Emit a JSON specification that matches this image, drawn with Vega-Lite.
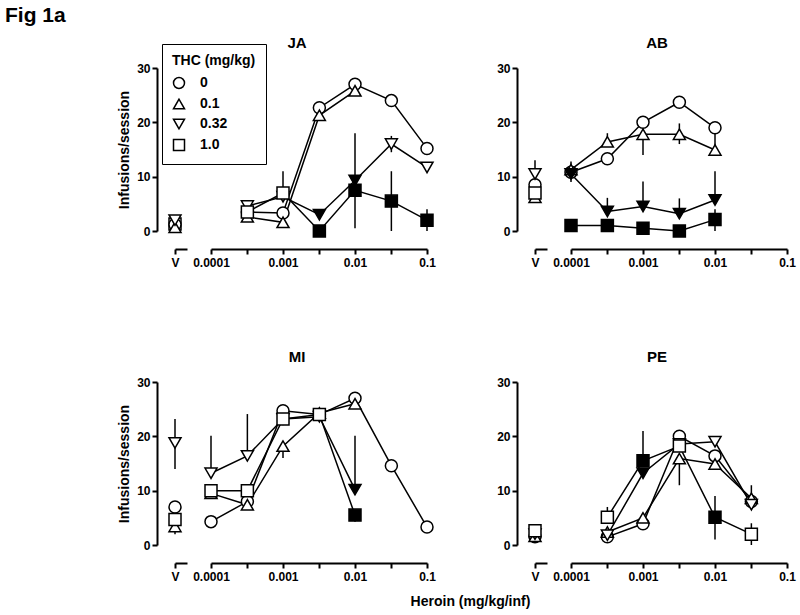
{
  "$schema": "https://vega.github.io/schema/vega-lite/v6.json",
  "padding": {"left": 5, "top": 5, "right": 5, "bottom": 5},
  "title": {"text": "Fig 1a", "anchor": "start", "frame": "group", "fontSize": 21, "dx": -170, "offset": 10},
  "datasets": {
    "veh": [
      {"s": "JA", "grp": "V", "thc": "1.0", "y": 1.3, "sig": "no"},
      {"s": "JA", "grp": "V", "thc": "0", "y": 1.2, "sig": "no"},
      {"s": "JA", "grp": "V", "thc": "0.1", "y": 0.7, "sig": "no"},
      {"s": "JA", "grp": "V", "thc": "0.32", "y": 2.0, "sig": "no"},
      {"s": "AB", "grp": "V", "thc": "0", "y": 8.5, "sig": "no"},
      {"s": "AB", "grp": "V", "thc": "0.1", "y": 6.2, "sig": "no"},
      {"s": "AB", "grp": "V", "thc": "0.32", "y": 10.5, "sig": "no", "lo": 8.2, "hi": 13},
      {"s": "AB", "grp": "V", "thc": "1.0", "y": 7.0, "sig": "no"},
      {"s": "MI", "grp": "V", "thc": "0", "y": 7.0, "sig": "no"},
      {"s": "MI", "grp": "V", "thc": "0.1", "y": 3.4, "sig": "no", "lo": 2, "hi": 3.4},
      {"s": "MI", "grp": "V", "thc": "0.32", "y": 18.8, "sig": "no", "lo": 14, "hi": 23.2},
      {"s": "MI", "grp": "V", "thc": "1.0", "y": 4.7, "sig": "no"},
      {"s": "PE", "grp": "V", "thc": "0", "y": 1.5, "sig": "no"},
      {"s": "PE", "grp": "V", "thc": "0.1", "y": 1.6, "sig": "no"},
      {"s": "PE", "grp": "V", "thc": "0.32", "y": 2.0, "sig": "no"},
      {"s": "PE", "grp": "V", "thc": "1.0", "y": 2.6, "sig": "no"}
    ],
    "dose": [
      {"s": "JA", "d": 0.00032, "thc": "0", "y": 3.5, "sig": "no"},
      {"s": "JA", "d": 0.001, "thc": "0", "y": 3.3, "sig": "no"},
      {"s": "JA", "d": 0.0032, "thc": "0", "y": 22.7, "sig": "no"},
      {"s": "JA", "d": 0.01, "thc": "0", "y": 27, "sig": "no"},
      {"s": "JA", "d": 0.032, "thc": "0", "y": 24, "sig": "no"},
      {"s": "JA", "d": 0.1, "thc": "0", "y": 15.2, "sig": "no"},
      {"s": "JA", "d": 0.00032, "thc": "0.1", "y": 2.6, "sig": "no"},
      {"s": "JA", "d": 0.001, "thc": "0.1", "y": 1.6, "sig": "no"},
      {"s": "JA", "d": 0.0032, "thc": "0.1", "y": 21.3, "sig": "no"},
      {"s": "JA", "d": 0.01, "thc": "0.1", "y": 25.8, "sig": "no"},
      {"s": "JA", "d": 0.00032, "thc": "0.32", "y": 4.6, "sig": "no"},
      {"s": "JA", "d": 0.001, "thc": "0.32", "y": 6.3, "sig": "no"},
      {"s": "JA", "d": 0.0032, "thc": "0.32", "y": 3.0, "sig": "yes"},
      {"s": "JA", "d": 0.01, "thc": "0.32", "y": 9.3, "sig": "yes", "lo": 0.5, "hi": 18},
      {"s": "JA", "d": 0.032, "thc": "0.32", "y": 16, "sig": "no", "lo": 14.5, "hi": 17.5},
      {"s": "JA", "d": 0.1, "thc": "0.32", "y": 11.7, "sig": "no"},
      {"s": "JA", "d": 0.00032, "thc": "1.0", "y": 3.5, "sig": "no"},
      {"s": "JA", "d": 0.001, "thc": "1.0", "y": 7.0, "sig": "no", "lo": 7, "hi": 11},
      {"s": "JA", "d": 0.0032, "thc": "1.0", "y": 0, "sig": "yes"},
      {"s": "JA", "d": 0.01, "thc": "1.0", "y": 7.5, "sig": "yes"},
      {"s": "JA", "d": 0.032, "thc": "1.0", "y": 5.5, "sig": "yes", "lo": 0, "hi": 11},
      {"s": "JA", "d": 0.1, "thc": "1.0", "y": 2, "sig": "yes", "lo": 0, "hi": 4},
      {"s": "AB", "d": 0.0001, "thc": "0", "y": 10.8, "sig": "no"},
      {"s": "AB", "d": 0.00032, "thc": "0", "y": 13.3, "sig": "no"},
      {"s": "AB", "d": 0.001, "thc": "0", "y": 20, "sig": "no"},
      {"s": "AB", "d": 0.0032, "thc": "0", "y": 23.7, "sig": "no"},
      {"s": "AB", "d": 0.01, "thc": "0", "y": 19, "sig": "no"},
      {"s": "AB", "d": 0.0001, "thc": "0.1", "y": 11.3, "sig": "no", "lo": 9.8, "hi": 12.8},
      {"s": "AB", "d": 0.00032, "thc": "0.1", "y": 16.4, "sig": "no", "lo": 16.4, "hi": 18},
      {"s": "AB", "d": 0.001, "thc": "0.1", "y": 17.8, "sig": "no", "lo": 14, "hi": 17.8},
      {"s": "AB", "d": 0.0032, "thc": "0.1", "y": 17.8, "sig": "no", "lo": 16, "hi": 19.8},
      {"s": "AB", "d": 0.01, "thc": "0.1", "y": 14.9, "sig": "no", "lo": 14.9, "hi": 19},
      {"s": "AB", "d": 0.0001, "thc": "0.32", "y": 10.5, "sig": "yes", "lo": 9, "hi": 10.5},
      {"s": "AB", "d": 0.00032, "thc": "0.32", "y": 3.6, "sig": "yes", "lo": 3.6, "hi": 6.1},
      {"s": "AB", "d": 0.001, "thc": "0.32", "y": 4.5, "sig": "yes", "lo": 4.5, "hi": 9.1},
      {"s": "AB", "d": 0.0032, "thc": "0.32", "y": 3.2, "sig": "yes", "lo": 3.2, "hi": 6},
      {"s": "AB", "d": 0.01, "thc": "0.32", "y": 5.7, "sig": "yes", "lo": 5.7, "hi": 11},
      {"s": "AB", "d": 0.0001, "thc": "1.0", "y": 1, "sig": "yes"},
      {"s": "AB", "d": 0.00032, "thc": "1.0", "y": 1, "sig": "yes"},
      {"s": "AB", "d": 0.001, "thc": "1.0", "y": 0.5, "sig": "yes"},
      {"s": "AB", "d": 0.0032, "thc": "1.0", "y": 0, "sig": "yes"},
      {"s": "AB", "d": 0.01, "thc": "1.0", "y": 2.1, "sig": "yes", "lo": 0, "hi": 4},
      {"s": "MI", "d": 0.0001, "thc": "0", "y": 4.3, "sig": "no"},
      {"s": "MI", "d": 0.00032, "thc": "0", "y": 8, "sig": "no"},
      {"s": "MI", "d": 0.001, "thc": "0", "y": 24.7, "sig": "no"},
      {"s": "MI", "d": 0.0032, "thc": "0", "y": 24, "sig": "no"},
      {"s": "MI", "d": 0.01, "thc": "0", "y": 27, "sig": "no"},
      {"s": "MI", "d": 0.032, "thc": "0", "y": 14.6, "sig": "no"},
      {"s": "MI", "d": 0.1, "thc": "0", "y": 3.3, "sig": "no"},
      {"s": "MI", "d": 0.0001, "thc": "0.1", "y": 9.5, "sig": "no"},
      {"s": "MI", "d": 0.00032, "thc": "0.1", "y": 7.4, "sig": "no"},
      {"s": "MI", "d": 0.001, "thc": "0.1", "y": 18.2, "sig": "no", "lo": 16, "hi": 18.2},
      {"s": "MI", "d": 0.0032, "thc": "0.1", "y": 24.3, "sig": "no"},
      {"s": "MI", "d": 0.01, "thc": "0.1", "y": 26, "sig": "no"},
      {"s": "MI", "d": 0.0001, "thc": "0.32", "y": 13.2, "sig": "no", "lo": 13.2, "hi": 20.1},
      {"s": "MI", "d": 0.00032, "thc": "0.32", "y": 16.4, "sig": "no", "lo": 16.4, "hi": 24.1},
      {"s": "MI", "d": 0.001, "thc": "0.32", "y": 23.2, "sig": "no"},
      {"s": "MI", "d": 0.0032, "thc": "0.32", "y": 23.6, "sig": "no"},
      {"s": "MI", "d": 0.01, "thc": "0.32", "y": 10.2, "sig": "yes", "lo": 10.2, "hi": 20.1},
      {"s": "MI", "d": 0.0001, "thc": "1.0", "y": 10, "sig": "no"},
      {"s": "MI", "d": 0.00032, "thc": "1.0", "y": 10, "sig": "no"},
      {"s": "MI", "d": 0.001, "thc": "1.0", "y": 23.2, "sig": "no"},
      {"s": "MI", "d": 0.0032, "thc": "1.0", "y": 24, "sig": "no"},
      {"s": "MI", "d": 0.01, "thc": "1.0", "y": 5.5, "sig": "yes", "lo": 4.3, "hi": 5.5},
      {"s": "PE", "d": 0.00032, "thc": "0", "y": 1.5, "sig": "no"},
      {"s": "PE", "d": 0.001, "thc": "0", "y": 3.9, "sig": "no"},
      {"s": "PE", "d": 0.0032, "thc": "0", "y": 20, "sig": "no"},
      {"s": "PE", "d": 0.01, "thc": "0", "y": 16.4, "sig": "no"},
      {"s": "PE", "d": 0.032, "thc": "0", "y": 8, "sig": "no"},
      {"s": "PE", "d": 0.00032, "thc": "0.1", "y": 2.4, "sig": "no"},
      {"s": "PE", "d": 0.001, "thc": "0.1", "y": 5, "sig": "no"},
      {"s": "PE", "d": 0.0032, "thc": "0.1", "y": 15.9, "sig": "no", "lo": 11, "hi": 15.9},
      {"s": "PE", "d": 0.01, "thc": "0.1", "y": 14.9, "sig": "no"},
      {"s": "PE", "d": 0.032, "thc": "0.1", "y": 8.6, "sig": "no"},
      {"s": "PE", "d": 0.00032, "thc": "0.32", "y": 1.8, "sig": "no"},
      {"s": "PE", "d": 0.001, "thc": "0.32", "y": 13.2, "sig": "yes"},
      {"s": "PE", "d": 0.0032, "thc": "0.32", "y": 18.6, "sig": "no"},
      {"s": "PE", "d": 0.01, "thc": "0.32", "y": 19, "sig": "no"},
      {"s": "PE", "d": 0.032, "thc": "0.32", "y": 7.4, "sig": "no", "lo": 7.4, "hi": 11},
      {"s": "PE", "d": 0.00032, "thc": "1.0", "y": 5.1, "sig": "no", "lo": 5.1, "hi": 7},
      {"s": "PE", "d": 0.001, "thc": "1.0", "y": 15.5, "sig": "yes", "lo": 15.5, "hi": 21},
      {"s": "PE", "d": 0.0032, "thc": "1.0", "y": 18.2, "sig": "no"},
      {"s": "PE", "d": 0.01, "thc": "1.0", "y": 5.1, "sig": "yes", "lo": 1, "hi": 9},
      {"s": "PE", "d": 0.032, "thc": "1.0", "y": 2, "sig": "no", "lo": 0, "hi": 4}
    ]
  },
  "config": {
    "font": "Liberation Sans",
    "view": {"stroke": null},
    "axis": {"grid": false, "domainColor": "black", "domainWidth": 2, "tickColor": "black", "tickWidth": 2, "tickSize": 5, "labelColor": "black", "labelFont": "Liberation Sans", "labelFontSize": 12, "labelFontWeight": "bold", "labelFlush": false, "labelOverlap": false, "labelPadding": 2, "titleFont": "Liberation Sans", "titleFontSize": 14, "titleFontWeight": "bold", "titleColor": "black", "titlePadding": 5},
    "axisX": {"labelPadding": 3},
    "title": {"font": "Liberation Sans", "fontSize": 15, "fontWeight": "bold", "color": "black"},
    "legend": {"titleFont": "Liberation Sans", "titleFontSize": 14, "titleFontWeight": "bold", "titleColor": "black", "titleLimit": 0, "labelFont": "Liberation Sans", "labelFontSize": 14, "labelFontWeight": "bold", "labelColor": "black", "symbolSize": 121, "symbolStrokeWidth": 1.5, "symbolFillColor": "white", "symbolStrokeColor": "black", "strokeColor": "black", "padding": 10, "rowPadding": 4, "titlePadding": 8, "labelOffset": 14}
  },
  "vconcat": [
    {
      "title": {"text": "Heroin (mg/kg/inf)", "orient": "bottom", "anchor": "middle", "frame": "bounds", "fontSize": 14, "offset": 13, "dx": 14},
      "columns": 2,
      "bounds": "flush",
      "spacing": {"row": 151, "column": 108},
      "concat": [
        {
          "title": {"text": "JA", "frame": "group", "offset": 11, "dx": -4},
          "width": 252, "height": 163,
          "resolve": {"scale": {"x": "independent"}, "axis": {"x": "independent"}},
          "layer": [
            {
              "data": {"name": "veh"},
              "transform": [{"filter": "datum.s === 'JA'"}],
              "encoding": {"x": {"field": "grp", "type": "nominal", "scale": {"type": "point", "padding": 0, "align": 0, "range": [0, 12]}, "axis": {"orient": "bottom", "title": null, "offset": 18, "labelAngle": 0}}},
              "layer": [
                {"transform": [{"filter": "isValid(datum.lo)"}], "mark": {"type": "rule", "color": "black", "strokeWidth": 1.5}, "encoding": {"y": {"field": "lo", "type": "quantitative", "scale": {"domain": [0, 30]}, "axis": {"values": [0, 10, 20, 30], "offset": 18, "title": "Infusions/session"}}, "y2": {"field": "hi"}}},
                {"mark": {"type": "point", "filled": true, "stroke": "black", "strokeWidth": 1.5, "size": 144, "opacity": 1}, "encoding": {"y": {"field": "y", "type": "quantitative", "scale": {"domain": [0, 30]}, "axis": {"values": [0, 10, 20, 30], "offset": 18, "title": "Infusions/session"}}, "shape": {"field": "thc", "type": "nominal", "scale": {"domain": ["0", "0.1", "0.32", "1.0"], "range": ["circle", "triangle-up", "triangle-down", "square"]}, "legend": {"title": "THC (mg/kg)", "orient": "none", "legendX": -13, "legendY": -24}}, "fill": {"field": "sig", "type": "nominal", "scale": {"domain": ["no", "yes"], "range": ["white", "black"]}, "legend": null}}}
              ]
            },
            {
              "data": {"name": "dose"},
              "transform": [{"filter": "datum.s === 'JA'"}],
              "encoding": {"x": {"field": "d", "type": "quantitative", "scale": {"type": "log", "domain": [0.0001, 0.1], "range": [36, 252]}, "axis": {"orient": "bottom", "title": null, "offset": 18, "values": [0.0001, 0.00032, 0.001, 0.0032, 0.01, 0.032, 0.1], "labelExpr": "(datum.value === 0.0001 || datum.value === 0.001 || datum.value === 0.01 || datum.value === 0.1) ? format(datum.value, '~g') : ''"}}},
              "layer": [
                {"transform": [{"filter": "isValid(datum.lo)"}], "mark": {"type": "rule", "color": "black", "strokeWidth": 1.5}, "encoding": {"y": {"field": "lo", "type": "quantitative", "scale": {"domain": [0, 30]}, "axis": {"values": [0, 10, 20, 30], "offset": 18, "title": "Infusions/session"}}, "y2": {"field": "hi"}}},
                {"mark": {"type": "line", "color": "black", "strokeWidth": 1.5}, "encoding": {"y": {"field": "y", "type": "quantitative", "scale": {"domain": [0, 30]}, "axis": {"values": [0, 10, 20, 30], "offset": 18, "title": "Infusions/session"}}, "detail": {"field": "thc"}}},
                {"mark": {"type": "point", "filled": true, "stroke": "black", "strokeWidth": 1.5, "size": 144, "opacity": 1}, "encoding": {"y": {"field": "y", "type": "quantitative", "scale": {"domain": [0, 30]}, "axis": {"values": [0, 10, 20, 30], "offset": 18, "title": "Infusions/session"}}, "shape": {"field": "thc", "type": "nominal", "scale": {"domain": ["0", "0.1", "0.32", "1.0"], "range": ["circle", "triangle-up", "triangle-down", "square"]}, "legend": {"title": "THC (mg/kg)", "orient": "none", "legendX": -13, "legendY": -24}}, "fill": {"field": "sig", "type": "nominal", "scale": {"domain": ["no", "yes"], "range": ["white", "black"]}, "legend": null}}}
              ]
            }
          ]
        },
        {
          "title": {"text": "AB", "frame": "group", "offset": 11, "dx": -4},
          "width": 252, "height": 163,
          "resolve": {"scale": {"x": "independent"}, "axis": {"x": "independent"}},
          "layer": [
            {
              "data": {"name": "veh"},
              "transform": [{"filter": "datum.s === 'AB'"}],
              "encoding": {"x": {"field": "grp", "type": "nominal", "scale": {"type": "point", "padding": 0, "align": 0, "range": [0, 12]}, "axis": {"orient": "bottom", "title": null, "offset": 18, "labelAngle": 0}}},
              "layer": [
                {"transform": [{"filter": "isValid(datum.lo)"}], "mark": {"type": "rule", "color": "black", "strokeWidth": 1.5}, "encoding": {"y": {"field": "lo", "type": "quantitative", "scale": {"domain": [0, 30]}, "axis": {"values": [0, 10, 20, 30], "offset": 18, "title": null}}, "y2": {"field": "hi"}}},
                {"mark": {"type": "point", "filled": true, "stroke": "black", "strokeWidth": 1.5, "size": 144, "opacity": 1}, "encoding": {"y": {"field": "y", "type": "quantitative", "scale": {"domain": [0, 30]}, "axis": {"values": [0, 10, 20, 30], "offset": 18, "title": null}}, "shape": {"field": "thc", "type": "nominal", "scale": {"domain": ["0", "0.1", "0.32", "1.0"], "range": ["circle", "triangle-up", "triangle-down", "square"]}, "legend": {"title": "THC (mg/kg)", "orient": "none", "legendX": -13, "legendY": -24}}, "fill": {"field": "sig", "type": "nominal", "scale": {"domain": ["no", "yes"], "range": ["white", "black"]}, "legend": null}}}
              ]
            },
            {
              "data": {"name": "dose"},
              "transform": [{"filter": "datum.s === 'AB'"}],
              "encoding": {"x": {"field": "d", "type": "quantitative", "scale": {"type": "log", "domain": [0.0001, 0.1], "range": [36, 252]}, "axis": {"orient": "bottom", "title": null, "offset": 18, "values": [0.0001, 0.00032, 0.001, 0.0032, 0.01, 0.032, 0.1], "labelExpr": "(datum.value === 0.0001 || datum.value === 0.001 || datum.value === 0.01 || datum.value === 0.1) ? format(datum.value, '~g') : ''"}}},
              "layer": [
                {"transform": [{"filter": "isValid(datum.lo)"}], "mark": {"type": "rule", "color": "black", "strokeWidth": 1.5}, "encoding": {"y": {"field": "lo", "type": "quantitative", "scale": {"domain": [0, 30]}, "axis": {"values": [0, 10, 20, 30], "offset": 18, "title": null}}, "y2": {"field": "hi"}}},
                {"mark": {"type": "line", "color": "black", "strokeWidth": 1.5}, "encoding": {"y": {"field": "y", "type": "quantitative", "scale": {"domain": [0, 30]}, "axis": {"values": [0, 10, 20, 30], "offset": 18, "title": null}}, "detail": {"field": "thc"}}},
                {"mark": {"type": "point", "filled": true, "stroke": "black", "strokeWidth": 1.5, "size": 144, "opacity": 1}, "encoding": {"y": {"field": "y", "type": "quantitative", "scale": {"domain": [0, 30]}, "axis": {"values": [0, 10, 20, 30], "offset": 18, "title": null}}, "shape": {"field": "thc", "type": "nominal", "scale": {"domain": ["0", "0.1", "0.32", "1.0"], "range": ["circle", "triangle-up", "triangle-down", "square"]}, "legend": {"title": "THC (mg/kg)", "orient": "none", "legendX": -13, "legendY": -24}}, "fill": {"field": "sig", "type": "nominal", "scale": {"domain": ["no", "yes"], "range": ["white", "black"]}, "legend": null}}}
              ]
            }
          ]
        },
        {
          "title": {"text": "MI", "frame": "group", "offset": 11, "dx": -4},
          "width": 252, "height": 163,
          "resolve": {"scale": {"x": "independent"}, "axis": {"x": "independent"}},
          "layer": [
            {
              "data": {"name": "veh"},
              "transform": [{"filter": "datum.s === 'MI'"}],
              "encoding": {"x": {"field": "grp", "type": "nominal", "scale": {"type": "point", "padding": 0, "align": 0, "range": [0, 12]}, "axis": {"orient": "bottom", "title": null, "offset": 18, "labelAngle": 0}}},
              "layer": [
                {"transform": [{"filter": "isValid(datum.lo)"}], "mark": {"type": "rule", "color": "black", "strokeWidth": 1.5}, "encoding": {"y": {"field": "lo", "type": "quantitative", "scale": {"domain": [0, 30]}, "axis": {"values": [0, 10, 20, 30], "offset": 18, "title": "Infusions/session"}}, "y2": {"field": "hi"}}},
                {"mark": {"type": "point", "filled": true, "stroke": "black", "strokeWidth": 1.5, "size": 144, "opacity": 1}, "encoding": {"y": {"field": "y", "type": "quantitative", "scale": {"domain": [0, 30]}, "axis": {"values": [0, 10, 20, 30], "offset": 18, "title": "Infusions/session"}}, "shape": {"field": "thc", "type": "nominal", "scale": {"domain": ["0", "0.1", "0.32", "1.0"], "range": ["circle", "triangle-up", "triangle-down", "square"]}, "legend": {"title": "THC (mg/kg)", "orient": "none", "legendX": -13, "legendY": -24}}, "fill": {"field": "sig", "type": "nominal", "scale": {"domain": ["no", "yes"], "range": ["white", "black"]}, "legend": null}}}
              ]
            },
            {
              "data": {"name": "dose"},
              "transform": [{"filter": "datum.s === 'MI'"}],
              "encoding": {"x": {"field": "d", "type": "quantitative", "scale": {"type": "log", "domain": [0.0001, 0.1], "range": [36, 252]}, "axis": {"orient": "bottom", "title": null, "offset": 18, "values": [0.0001, 0.00032, 0.001, 0.0032, 0.01, 0.032, 0.1], "labelExpr": "(datum.value === 0.0001 || datum.value === 0.001 || datum.value === 0.01 || datum.value === 0.1) ? format(datum.value, '~g') : ''"}}},
              "layer": [
                {"transform": [{"filter": "isValid(datum.lo)"}], "mark": {"type": "rule", "color": "black", "strokeWidth": 1.5}, "encoding": {"y": {"field": "lo", "type": "quantitative", "scale": {"domain": [0, 30]}, "axis": {"values": [0, 10, 20, 30], "offset": 18, "title": "Infusions/session"}}, "y2": {"field": "hi"}}},
                {"mark": {"type": "line", "color": "black", "strokeWidth": 1.5}, "encoding": {"y": {"field": "y", "type": "quantitative", "scale": {"domain": [0, 30]}, "axis": {"values": [0, 10, 20, 30], "offset": 18, "title": "Infusions/session"}}, "detail": {"field": "thc"}}},
                {"mark": {"type": "point", "filled": true, "stroke": "black", "strokeWidth": 1.5, "size": 144, "opacity": 1}, "encoding": {"y": {"field": "y", "type": "quantitative", "scale": {"domain": [0, 30]}, "axis": {"values": [0, 10, 20, 30], "offset": 18, "title": "Infusions/session"}}, "shape": {"field": "thc", "type": "nominal", "scale": {"domain": ["0", "0.1", "0.32", "1.0"], "range": ["circle", "triangle-up", "triangle-down", "square"]}, "legend": {"title": "THC (mg/kg)", "orient": "none", "legendX": -13, "legendY": -24}}, "fill": {"field": "sig", "type": "nominal", "scale": {"domain": ["no", "yes"], "range": ["white", "black"]}, "legend": null}}}
              ]
            }
          ]
        },
        {
          "title": {"text": "PE", "frame": "group", "offset": 11, "dx": -4},
          "width": 252, "height": 163,
          "resolve": {"scale": {"x": "independent"}, "axis": {"x": "independent"}},
          "layer": [
            {
              "data": {"name": "veh"},
              "transform": [{"filter": "datum.s === 'PE'"}],
              "encoding": {"x": {"field": "grp", "type": "nominal", "scale": {"type": "point", "padding": 0, "align": 0, "range": [0, 12]}, "axis": {"orient": "bottom", "title": null, "offset": 18, "labelAngle": 0}}},
              "layer": [
                {"transform": [{"filter": "isValid(datum.lo)"}], "mark": {"type": "rule", "color": "black", "strokeWidth": 1.5}, "encoding": {"y": {"field": "lo", "type": "quantitative", "scale": {"domain": [0, 30]}, "axis": {"values": [0, 10, 20, 30], "offset": 18, "title": null}}, "y2": {"field": "hi"}}},
                {"mark": {"type": "point", "filled": true, "stroke": "black", "strokeWidth": 1.5, "size": 144, "opacity": 1}, "encoding": {"y": {"field": "y", "type": "quantitative", "scale": {"domain": [0, 30]}, "axis": {"values": [0, 10, 20, 30], "offset": 18, "title": null}}, "shape": {"field": "thc", "type": "nominal", "scale": {"domain": ["0", "0.1", "0.32", "1.0"], "range": ["circle", "triangle-up", "triangle-down", "square"]}, "legend": {"title": "THC (mg/kg)", "orient": "none", "legendX": -13, "legendY": -24}}, "fill": {"field": "sig", "type": "nominal", "scale": {"domain": ["no", "yes"], "range": ["white", "black"]}, "legend": null}}}
              ]
            },
            {
              "data": {"name": "dose"},
              "transform": [{"filter": "datum.s === 'PE'"}],
              "encoding": {"x": {"field": "d", "type": "quantitative", "scale": {"type": "log", "domain": [0.0001, 0.1], "range": [36, 252]}, "axis": {"orient": "bottom", "title": null, "offset": 18, "values": [0.0001, 0.00032, 0.001, 0.0032, 0.01, 0.032, 0.1], "labelExpr": "(datum.value === 0.0001 || datum.value === 0.001 || datum.value === 0.01 || datum.value === 0.1) ? format(datum.value, '~g') : ''"}}},
              "layer": [
                {"transform": [{"filter": "isValid(datum.lo)"}], "mark": {"type": "rule", "color": "black", "strokeWidth": 1.5}, "encoding": {"y": {"field": "lo", "type": "quantitative", "scale": {"domain": [0, 30]}, "axis": {"values": [0, 10, 20, 30], "offset": 18, "title": null}}, "y2": {"field": "hi"}}},
                {"mark": {"type": "line", "color": "black", "strokeWidth": 1.5}, "encoding": {"y": {"field": "y", "type": "quantitative", "scale": {"domain": [0, 30]}, "axis": {"values": [0, 10, 20, 30], "offset": 18, "title": null}}, "detail": {"field": "thc"}}},
                {"mark": {"type": "point", "filled": true, "stroke": "black", "strokeWidth": 1.5, "size": 144, "opacity": 1}, "encoding": {"y": {"field": "y", "type": "quantitative", "scale": {"domain": [0, 30]}, "axis": {"values": [0, 10, 20, 30], "offset": 18, "title": null}}, "shape": {"field": "thc", "type": "nominal", "scale": {"domain": ["0", "0.1", "0.32", "1.0"], "range": ["circle", "triangle-up", "triangle-down", "square"]}, "legend": {"title": "THC (mg/kg)", "orient": "none", "legendX": -13, "legendY": -24}}, "fill": {"field": "sig", "type": "nominal", "scale": {"domain": ["no", "yes"], "range": ["white", "black"]}, "legend": null}}}
              ]
            }
          ]
        }
      ]
    }
  ]
}
